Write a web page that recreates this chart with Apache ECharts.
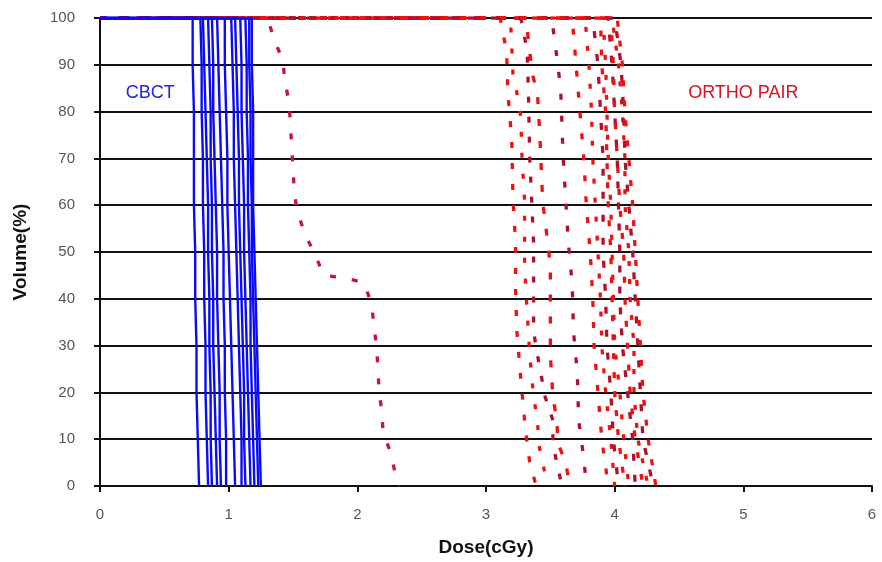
<!DOCTYPE html>
<html>
<head>
<meta charset="utf-8">
<script src="https://cdn.jsdelivr.net/npm/echarts@6/dist/echarts.min.js"></script>
<style>
html,body{margin:0;padding:0;background:#fff;}
#chart{width:882px;height:562px;}
</style>
</head>
<body>
<div id="chart"></div>
<script>
// ---- Data ----
const xTicks = [0, 1, 2, 3, 4, 5, 6];
const yTicks = [0, 10, 20, 30, 40, 50, 60, 70, 80, 90, 100];
const volSteps = [100, 90, 80, 70, 60, 50, 40, 30, 20, 10, 0];

// CBCT DVH curves: dose (cGy) at each volume step
const cbct1  = [0.72,0.72,0.73,0.73,0.73,0.74,0.74,0.75,0.75,0.76,0.77];
const cbct2  = [0.78,0.79,0.79,0.80,0.80,0.81,0.81,0.82,0.82,0.83,0.84];
const cbct3  = [0.80,0.81,0.82,0.83,0.84,0.84,0.85,0.85,0.86,0.86,0.87];
const cbct4  = [0.84,0.85,0.86,0.86,0.87,0.87,0.88,0.88,0.89,0.90,0.91];
const cbct5  = [0.87,0.88,0.88,0.89,0.90,0.91,0.91,0.92,0.93,0.93,0.94];
const cbct6  = [0.91,0.92,0.93,0.94,0.95,0.96,0.96,0.97,0.97,0.98,0.98];
const cbct7  = [0.97,0.97,0.98,0.99,0.99,1.00,1.01,1.02,1.03,1.04,1.05];
const cbct8  = [1.02,1.03,1.04,1.04,1.05,1.06,1.07,1.08,1.09,1.10,1.10];
const cbct9  = [1.05,1.06,1.07,1.08,1.08,1.09,1.10,1.11,1.12,1.12,1.13];
const cbct10 = [1.09,1.10,1.10,1.11,1.12,1.12,1.13,1.14,1.15,1.16,1.17];
const cbct11 = [1.13,1.14,1.14,1.15,1.15,1.16,1.17,1.17,1.18,1.19,1.20];
const cbct12 = [1.16,1.16,1.17,1.17,1.18,1.18,1.19,1.20,1.21,1.22,1.23];
const cbct13 = [1.18,1.18,1.19,1.19,1.19,1.20,1.21,1.22,1.23,1.24,1.25];

// ORTHO PAIR curve with shoulder (dose, volume)
const orthoA_dose = [0,1.30,1.36,1.42,1.44,1.47,1.48,1.49,1.50,1.51,1.53,1.59,1.67,1.74,1.89,2.05,2.11,2.13,2.15,2.16,2.17,2.19,2.20,2.26,2.30,2.33];
const orthoA_vol  = [100,100,95,91,86,82,77,72.5,68,63,59,54,49.5,45,44.5,43.5,39,34,29.6,25,20,16,11.5,7,2,0];

// ORTHO PAIR left group
const orthoL1_dose = [0,3.11,3.13,3.16,3.17,3.20,3.21,3.23,3.23,3.24,3.27,3.30,3.32,3.34,3.38,3.40];
const orthoL1_vol  = [100,100,97,93,84,74,61,52,42,33,23,14,9,5,1,0];
const orthoL2_dose = [0,3.19,3.21,3.24,3.27,3.28,3.30,3.30,3.32,3.34,3.37,3.40,3.41,3.44,3.48];
const orthoL2_vol  = [100,100,88,84,79,70,61,47,37,28,19,14,9,5,0];
const orthoL3_dose = [0,3.27,3.32,3.33,3.34,3.37,3.37,3.40,3.46,3.52,3.52,3.55,3.59];
const orthoL3_vol  = [100,100,93,84,70,52,33,28,19,14,9,5,0];
const orthoL4_dose = [0,3.31,3.36,3.40,3.42,3.44,3.48,3.50,3.50,3.52,3.55,3.56,3.62,3.65];
const orthoL4_vol  = [100,100,88,84,74,61,52,47,28,19,14,9,5,0];
const orthoD_dose  = [0,3.51,3.54,3.58,3.60,3.62,3.64,3.67,3.68,3.71,3.72,3.76,3.78];
const orthoD_vol   = [100,100,94,85,70,61,52,43,33,24,14,6,0];

// ORTHO PAIR right cluster: dose at each volume step
const orthoR1  = [3.67,3.70,3.73,3.76,3.78,3.81,3.83,3.84,3.87,3.90,3.95];
const orthoR2  = [3.77,3.80,3.82,3.83,3.85,3.87,3.89,3.90,3.93,3.97,4.00];
const orthoR3  = [3.83,3.87,3.89,3.91,3.91,3.91,3.93,3.94,3.97,3.99,4.03];
const orthoR4  = [3.89,3.90,3.93,3.94,3.95,3.97,3.98,3.99,4.00,4.03,4.08];
const orthoR5  = [3.91,3.93,3.94,3.95,3.97,3.98,3.99,4.00,4.04,4.07,4.11];
const orthoR6  = [3.95,3.98,4.00,4.02,4.03,4.04,4.04,4.06,4.10,4.14,4.16];
const orthoR7  = [3.97,3.99,4.00,4.02,4.04,4.07,4.08,4.10,4.12,4.16,4.22];
const orthoR8  = [3.98,4.03,4.06,4.08,4.08,4.11,4.12,4.15,4.15,4.18,4.26];
const orthoR9  = [4.00,4.05,4.07,4.08,4.11,4.14,4.16,4.18,4.20,4.22,4.30];
const orthoR10 = [4.02,4.06,4.08,4.11,4.14,4.16,4.18,4.20,4.22,4.26,4.32];

// ---- Build ----
const FONT = "'Liberation Sans', Arial, sans-serif";
const RED = '#f01010';
const DARK = '#b0102e';

function stepCurve(doses) {
  return [[0, 100]].concat(doses.map((d, i) => [d, volSteps[i]]));
}
function pairCurve(doses, vols) {
  return doses.map((d, i) => [d, vols[i]]);
}
function redSeries(data, color, dash) {
  return {
    type: 'line', data: data, symbol: 'none', silent: true, z: 2,
    lineStyle: { color: color, width: 3.3, type: dash || [6, 15] }
  };
}
function blueSeries(data) {
  return {
    type: 'line', data: data, symbol: 'none', silent: true, z: 3,
    lineStyle: { color: '#0a0aff', width: 2.4 }
  };
}

const series = [];
series.push(redSeries(pairCurve(orthoA_dose, orthoA_vol), '#c8143a', [6, 16]));
series.push(redSeries(pairCurve(orthoL1_dose, orthoL1_vol), RED));
series.push(redSeries(pairCurve(orthoL2_dose, orthoL2_vol), RED, [5, 16]));
series.push(redSeries(pairCurve(orthoL3_dose, orthoL3_vol), DARK, [6, 14]));
series.push(redSeries(pairCurve(orthoL4_dose, orthoL4_vol), RED, [7, 15]));
series.push(redSeries(pairCurve(orthoD_dose, orthoD_vol), DARK, [6, 16]));
const rightDashes = [[6, 15], [5, 14], [7, 16], [6, 13], [5, 15], [7, 14], [6, 16], [5, 13], [7, 15], [6, 14]];
[orthoR1, orthoR2, orthoR3, orthoR4, orthoR5, orthoR6, orthoR7, orthoR8, orthoR9, orthoR10]
  .forEach((c, i) => series.push(redSeries(stepCurve(c), (i === 2 || i === 5 || i === 8) ? DARK : RED, rightDashes[i])));
[cbct1, cbct2, cbct3, cbct4, cbct5, cbct6, cbct7, cbct8, cbct9, cbct10, cbct11, cbct12, cbct13]
  .forEach(c => series.push(blueSeries(stepCurve(c))));

const chart = echarts.init(document.getElementById('chart'), null, { renderer: 'canvas' });
const option = {
  animation: false,
  backgroundColor: '#ffffff',
  grid: { left: 100, right: 10, top: 18, bottom: 75, containLabel: false },
  xAxis: {
    type: 'value', min: xTicks[0], max: xTicks[xTicks.length - 1], interval: 1,
    name: 'Dose(cGy)', nameLocation: 'middle', nameGap: 52,
    nameTextStyle: { fontFamily: FONT, fontWeight: 'bold', fontSize: 19, color: '#111' },
    axisLine: { show: true, lineStyle: { color: '#111', width: 2 } },
    axisTick: { show: true, length: 6, inside: false, lineStyle: { color: '#111', width: 2 } },
    axisLabel: { margin: 21, fontFamily: FONT, fontSize: 15, color: '#555' },
    splitLine: { show: false }
  },
  yAxis: {
    type: 'value', min: yTicks[0], max: yTicks[yTicks.length - 1], interval: 10,
    name: 'Volume(%)', nameLocation: 'middle', nameGap: 70, nameRotate: 90,
    nameTextStyle: { fontFamily: FONT, fontWeight: 'bold', fontSize: 19, color: '#111' },
    axisLine: { show: true, lineStyle: { color: '#111', width: 2 } },
    axisTick: { show: true, length: 6, inside: false, lineStyle: { color: '#111', width: 2 } },
    axisLabel: { margin: 25, fontFamily: FONT, fontSize: 15, color: '#555' },
    splitLine: { show: true, lineStyle: { color: '#111', width: 2 } }
  },
  series: series
};
chart.setOption(option);

const pC = chart.convertToPixel({ gridIndex: 0 }, [0.39, 84]);
const pO = chart.convertToPixel({ gridIndex: 0 }, [5.0, 84]);
chart.setOption({
  graphic: [
    { type: 'text', x: pC[0], y: pC[1], z: 10,
      style: { text: 'CBCT', fill: '#2222e0', font: '18px ' + FONT, align: 'center', verticalAlign: 'middle' } },
    { type: 'text', x: pO[0], y: pO[1], z: 10,
      style: { text: 'ORTHO PAIR', fill: '#e01020', font: '18px ' + FONT, align: 'center', verticalAlign: 'middle' } }
  ]
});
</script>
</body>
</html>
